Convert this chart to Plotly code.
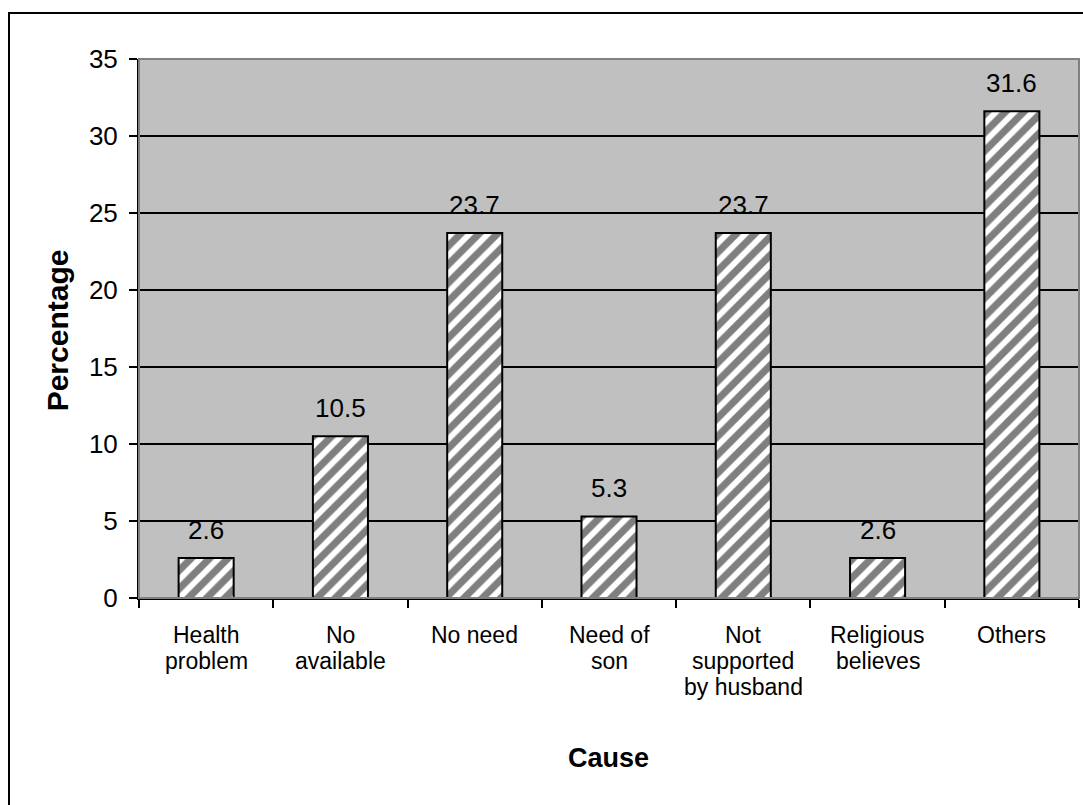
import plotly.graph_objects as go

# Reasons given, with the share of respondents (%)
causes = [
    "Health<br>problem",
    "No<br>available",
    "No need",
    "Need of<br>son",
    "Not<br>supported<br>by husband",
    "Religious<br>believes",
    "Others",
]
percentages = [2.6, 10.5, 23.7, 5.3, 23.7, 2.6, 31.6]
y_ticks = [0, 5, 10, 15, 20, 25, 30, 35]

FONT = "Liberation Sans, Arial, sans-serif"
LINE_STEP = 26  # vertical spacing of category label lines, px

fig = go.Figure()
fig.add_trace(
    go.Bar(
        x=causes,
        y=percentages,
        marker=dict(
            color="white",
            line=dict(color="black", width=2),
            pattern=dict(shape="/", fgcolor="black", bgcolor="white",
                         size=13, solidity=0.55),
        ),
        hoverinfo="skip",
        showlegend=False,
    )
)

# Value labels above each bar
for c, v in zip(causes, percentages):
    fig.add_annotation(
        x=c, y=v, text=f"{v:.1f}", showarrow=False,
        yanchor="bottom", yshift=11,
        font=dict(family=FONT, size=26, color="black"),
    )

# Category labels, one line at a time for tighter line spacing
for c in causes:
    for i, part in enumerate(c.split("<br>")):
        fig.add_annotation(
            x=c, xref="x", yref="paper", y=0, text=part, showarrow=False,
            xanchor="center", yanchor="top", yshift=-(22 + i * LINE_STEP),
            font=dict(family=FONT, size=23, color="black"),
        )

# Axis titles
fig.add_annotation(
    xref="paper", yref="paper", x=0.499, y=-0.297,
    text="<b>Cause</b>", showarrow=False,
    xanchor="center", yanchor="middle",
    font=dict(family=FONT, size=27, color="black"),
)
fig.add_annotation(
    xref="paper", yref="paper", x=-0.087, y=0.497,
    text="<b>Percentage</b>", showarrow=False, textangle=-90,
    xanchor="center", yanchor="middle",
    font=dict(family=FONT, size=30, color="black"),
)

# Plot-area border (grey) and outer chart frame (black)
fig.add_shape(type="rect", xref="paper", yref="paper",
              x0=0, x1=1, y0=0, y1=1,
              line=dict(color="#808080", width=2), layer="above")
fig.add_shape(type="rect", xref="paper", yref="paper",
              x0=-0.1383, x1=1.02, y0=-0.40, y1=1.0853,
              line=dict(color="black", width=2), layer="above")

fig.update_layout(
    width=1083,
    height=805,
    margin=dict(l=139, r=4, t=59, b=207),
    paper_bgcolor="white",
    plot_bgcolor="#C0C0C0",
    bargap=0.59,
    font=dict(family=FONT, size=23, color="black"),
    xaxis=dict(
        showgrid=False,
        showline=True, linecolor="black", linewidth=2,
        ticks="outside", tickson="boundaries", ticklen=8,
        tickwidth=2, tickcolor="black",
        showticklabels=False,
        fixedrange=True,
    ),
    yaxis=dict(
        range=[0, 35],
        tickvals=y_ticks,
        showgrid=True, gridcolor="black", gridwidth=2,
        zeroline=False,
        showline=True, linecolor="black", linewidth=2,
        ticks="outside", ticklen=8, tickwidth=2, tickcolor="black",
        tickfont=dict(family=FONT, size=26, color="black"),
        ticklabelstandoff=6,
        fixedrange=True,
    ),
)

fig.write_html("out.html")
